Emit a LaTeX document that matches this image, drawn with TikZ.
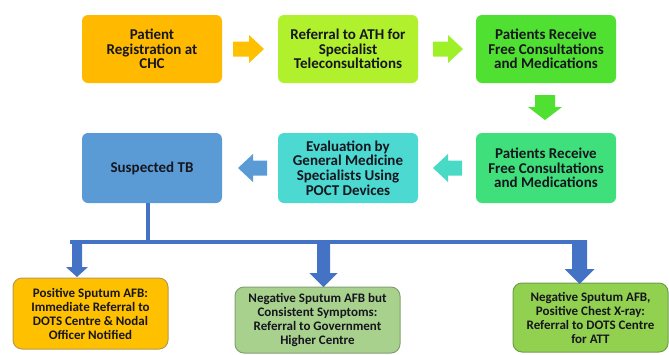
\documentclass[tikz,border=0pt]{standalone}
\usepackage{fontspec}
\setmainfont{Carlito}
\definecolor{txt}{HTML}{16161E}
\definecolor{cA}{HTML}{FFBA00}
\definecolor{cB}{HTML}{B0F02C}
\definecolor{cC}{HTML}{50E032}
\definecolor{cD}{HTML}{3FE07C}
\definecolor{cE}{HTML}{4BD9D2}
\definecolor{cF}{HTML}{5B9BD5}
\definecolor{conn}{HTML}{4472C4}
\definecolor{gA}{HTML}{FFC000}
\definecolor{gAb}{HTML}{B99A4C}
\definecolor{gB}{HTML}{A9D18E}
\definecolor{gBb}{HTML}{82A070}
\definecolor{gC}{HTML}{92D050}
\definecolor{gCb}{HTML}{6E9E46}
% horizontal block arrow: xs, xe, yc, signed head length, colour
\newcommand\harr[5]{\fill[#5] (#1,{#3-7.5}) -- ({#2-(#4)},{#3-7.5}) -- ({#2-(#4)},{#3-14}) -- (#2,#3) -- ({#2-(#4)},{#3+14}) -- ({#2-(#4)},{#3+7.5}) -- (#1,{#3+7.5}) -- cycle;}
% vertical block arrow: xc, ys, ye, shaft half, head half, head length, colour
\newcommand\varr[7]{\fill[#7] ({#1-#4},#2) -- ({#1+#4},#2) -- ({#1+#4},{#3-#6}) -- ({#1+#5},{#3-#6}) -- (#1,#3) -- ({#1-#5},{#3-#6}) -- ({#1-#4},{#3-#6}) -- cycle;}
\begin{document}
\begin{tikzpicture}[x=1pt,y=-1pt,
  box/.style={rectangle, rounded corners=6pt, align=center, text=txt, inner sep=0pt,
    minimum width=140pt, font=\bfseries\fontsize{15}{14.7}\selectfont},
  bbox/.style={rectangle, rounded corners=9pt, draw=#1, line width=1pt, align=center,
    text=txt, inner sep=0pt, font=\bfseries\fontsize{13}{14}\selectfont},
  link/.style={draw=conn, line width=4pt}
  ]
\useasboundingbox (0,0) rectangle (669,354);
% top row
\node[box, fill=cA, minimum height=68pt] (r1) at (152,49) {Patient\\Registration at\\CHC};
\node[box, fill=cB, minimum height=68pt] (r2) at (348,49) {Referral to ATH for\\Specialist\\Teleconsultations};
\node[box, fill=cC, minimum height=68pt] (r3) at (546,49) {Patients Receive\\Free Consultations\\and Medications};
% second row
\node[box, fill=cF, minimum height=70pt] (st) at (152,168) {Suspected TB};
\node[box, fill=cE, minimum height=70pt] (ev) at (348,168) {Evaluation by\\General Medicine\\Specialists Using\\POCT Devices};
\node[box, fill=cD, minimum height=70pt] (p2) at (546,168) {Patients Receive\\Free Consultations\\and Medications};
% block arrows
\harr{233}{264}{49}{15}{gA}
\harr{433}{463}{49}{15}{cB!90!green}
\varr{545}{95}{120}{10}{17}{13}{cC}
\harr{462}{433}{168}{-15}{cE!85!cD}
\harr{267}{238}{168}{-15}{cF}
% bottom boxes
\node[bbox=gAb, fill=gA, minimum width=155pt, minimum height=71pt] (b1) at (90.5,313.5)
  {Positive Sputum AFB:\\Immediate Referral to\\DOTS Centre \& Nodal\\Officer Notified};
\node[bbox=gBb, fill=gB, minimum width=165pt, minimum height=66pt] (b2) at (317.5,320)
  {Negative Sputum AFB but\\Consistent Symptoms:\\Referral to Government\\Higher Centre};
\node[bbox=gCb, fill=gC, minimum width=155pt, minimum height=69pt] (b3) at (590.5,317.5)
  {Negative Sputum AFB,\\Positive Chest X-ray:\\Referral to DOTS Centre\\for ATT};
% connectors
\coordinate (hub) at (148,242);
\coordinate (hl) at (72,242);
\coordinate (hr) at (584,242);
\draw[link] (st.south -| hub) -- (hub);
\draw[link, line cap=rect] (hl) -- (hr);
\varr{77}{240}{277}{5}{11}{10}{conn}
\varr{323.5}{240}{287}{6.5}{14}{14}{conn}
\varr{579.5}{240}{284}{7.5}{15}{15}{conn}
\end{tikzpicture}
\end{document}
